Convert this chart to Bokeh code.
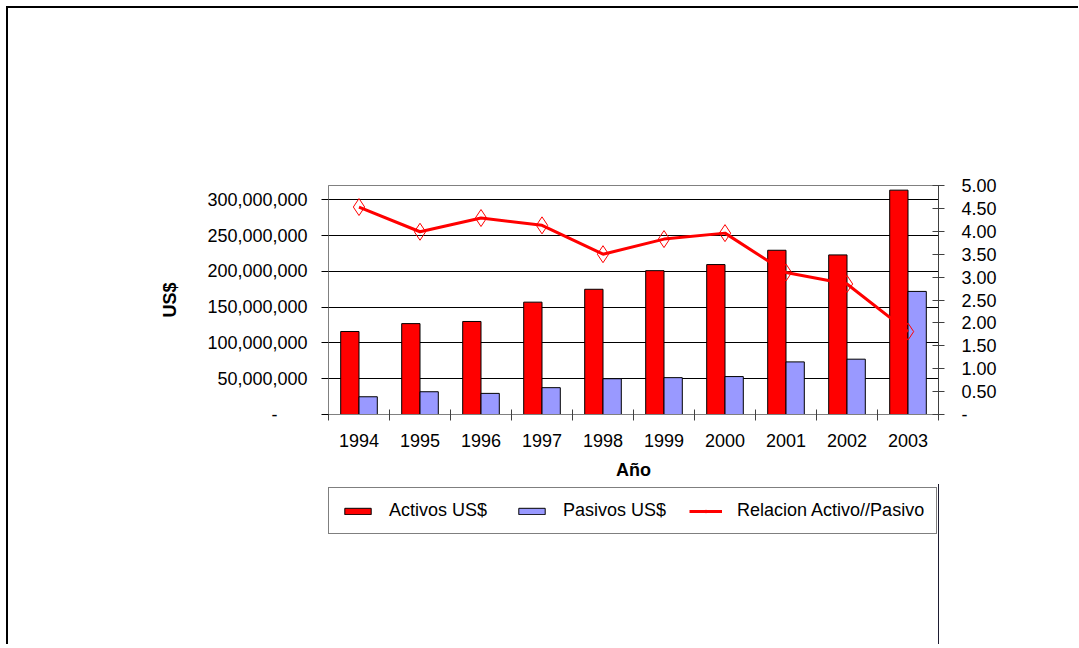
from bokeh.plotting import figure
from bokeh.models import (Range1d, LinearAxis, FixedTicker, NumeralTickFormatter,
                          Legend, LegendItem, ColumnDataSource)
from bokeh.layouts import column
from bokeh.transform import dodge
from bokeh.embed import file_html
from bokeh.resources import INLINE

# ---------------- data ----------------
years = [1994, 1995, 1996, 1997, 1998, 1999, 2000, 2001, 2002, 2003]
activos = [116_000_000, 127_000_000, 130_000_000, 157_000_000, 175_000_000,
           201_000_000, 209_500_000, 229_500_000, 223_000_000, 313_500_000]
pasivos = [24_800_000, 31_800_000, 29_500_000, 37_500_000, 50_000_000,
           51_500_000, 53_000_000, 73_500_000, 77_300_000, 172_000_000]
ratio = [4.53, 3.99, 4.29, 4.13, 3.50, 3.83, 3.96, 3.10, 2.85, 1.81]

left_ticks = [0, 50_000_000, 100_000_000, 150_000_000, 200_000_000, 250_000_000, 300_000_000]
right_ticks = [0, 0.5, 1.0, 1.5, 2.0, 2.5, 3.0, 3.5, 4.0, 4.5, 5.0]
year_bounds = [y - 0.5 for y in years] + [years[-1] + 0.5]

series_names = ["Activos US$", "Pasivos US$", "Relacion Activo//Pasivo"]
x_title = "Año"
y_title = "US$"

FONT = "Liberation Sans"
RED = "#FF0000"
BLUE = "#9999FF"

src = ColumnDataSource(dict(year=years, activos=activos, pasivos=pasivos, ratio=ratio))

p = figure(output_backend="svg", toolbar_location=None,
           frame_width=610, frame_height=229,
           min_border_left=320, min_border_right=140,
           min_border_top=177, min_border_bottom=70,
           x_range=Range1d(years[0] - 0.5, years[-1] + 0.5),
           y_range=Range1d(0, 320_000_000))
p.background_fill_color = "white"
p.border_fill_color = "white"
p.outline_line_color = "#808080"
p.outline_line_width = 1
p.xgrid.visible = False
p.ygrid.ticker = FixedTicker(ticks=left_ticks)
p.ygrid.grid_line_color = "#000000"
p.ygrid.grid_line_width = 1

p.extra_y_ranges = {"ratio": Range1d(0, 5)}

p.vbar(x=dodge("year", -0.15, range=p.x_range), top="activos", width=0.3,
       source=src, fill_color=RED, line_color="#000000", line_width=1)
p.vbar(x=dodge("year", 0.15, range=p.x_range), top="pasivos", width=0.3,
       source=src, fill_color=BLUE, line_color="#000000", line_width=1)
p.line(x="year", y="ratio", source=src, y_range_name="ratio",
       line_color=RED, line_width=3)
p.scatter(x="year", y="ratio", source=src, y_range_name="ratio",
          marker="diamond", size=17, fill_alpha=0, line_color=RED, line_width=1)

# x axis
xa = p.xaxis[0]
xa.ticker = FixedTicker(ticks=years, minor_ticks=year_bounds)
xa.major_tick_out = 0
xa.major_tick_in = 0
xa.minor_tick_out = 6
xa.minor_tick_in = 5
xa.minor_tick_line_color = "#404040"
xa.axis_line_color = "#808080"
xa.major_label_text_font = FONT
xa.major_label_text_font_size = "18px"
xa.major_label_text_color = "#000000"
xa.major_label_standoff = 13
xa.axis_label = x_title
xa.axis_label_text_font = FONT
xa.axis_label_text_font_size = "18px"
xa.axis_label_text_font_style = "bold"
xa.axis_label_text_color = "#000000"
xa.axis_label_standoff = 10

# left axis
ya = p.yaxis[0]
ya.ticker = FixedTicker(ticks=left_ticks)
ya.formatter = NumeralTickFormatter(format="0,0")
ya.major_label_overrides = {0: "-\u2007\u2007\u2007"}
ya.major_tick_out = 7
ya.major_tick_in = 0
ya.major_tick_line_color = "#000000"
ya.minor_tick_line_color = None
ya.axis_line_color = "#808080"
ya.major_label_text_font = FONT
ya.major_label_text_font_size = "18px"
ya.major_label_text_color = "#000000"
ya.major_label_standoff = 14
ya.axis_label = y_title
ya.axis_label_text_font = FONT
ya.axis_label_text_font_size = "18px"
ya.axis_label_text_font_style = "bold"
ya.axis_label_text_color = "#000000"
ya.axis_label_standoff = 24

# right axis
ra = LinearAxis(y_range_name="ratio", ticker=FixedTicker(ticks=right_ticks),
                formatter=NumeralTickFormatter(format="0.00"))
ra.major_label_overrides = {0: "-"}
ra.major_tick_out = 6
ra.major_tick_in = 6
ra.major_tick_line_color = "#404040"
ra.minor_tick_line_color = None
ra.axis_line_color = "#404040"
ra.major_label_text_font = FONT
ra.major_label_text_font_size = "18px"
ra.major_label_text_color = "#000000"
ra.major_label_standoff = 17
p.add_layout(ra, "right")

# ---------------- legend strip (separate figure below the chart) ----------------
# The proxy glyphs use the same data, which lies outside this strip's ranges,
# so only their legend swatches are visible.
lf = figure(output_backend="svg", toolbar_location=None,
            width=1070, height=160, min_border=0,
            x_axis_location=None, y_axis_location=None,
            x_range=Range1d(0, 1), y_range=Range1d(0, 1))
lf.outline_line_color = None
lf.grid.visible = False
lf.background_fill_color = "white"
lf.border_fill_color = "white"

l_act = lf.vbar(x="year", top="activos", width=0.3, source=src,
                fill_color=RED, line_color="#000000", line_width=1)
l_pas = lf.vbar(x="year", top="pasivos", width=0.3, source=src,
                fill_color=BLUE, line_color="#000000", line_width=1)
l_line = lf.line(x="year", y="ratio", source=src, line_color=RED, line_width=3)
l_mark = lf.scatter(x="year", y="ratio", source=src, marker="diamond", size=7,
                    fill_alpha=0, line_color=RED, line_width=1)

legend = Legend(items=[LegendItem(label=series_names[0], renderers=[l_act]),
                       LegendItem(label=series_names[1], renderers=[l_pas]),
                       LegendItem(label=series_names[2], renderers=[l_line, l_mark])],
                orientation="horizontal", location=(0, 110),
                padding=12, spacing=23, margin=0,
                glyph_width=33, glyph_height=8, label_width=103, label_height=21,
                label_standoff=15,
                label_text_font=FONT, label_text_font_size="18px",
                label_text_color="#000000",
                border_line_color="#000000", border_line_width=1,
                background_fill_color="white", background_fill_alpha=1)
lf.add_layout(legend)

layout = column(p, lf, spacing=0)
layout.styles = {"margin-top": "6px", "margin-left": "6px",
                 "border-top": "2px solid #000000", "border-left": "2px solid #000000"}

open("out.html", "w").write(file_html(layout, INLINE))
